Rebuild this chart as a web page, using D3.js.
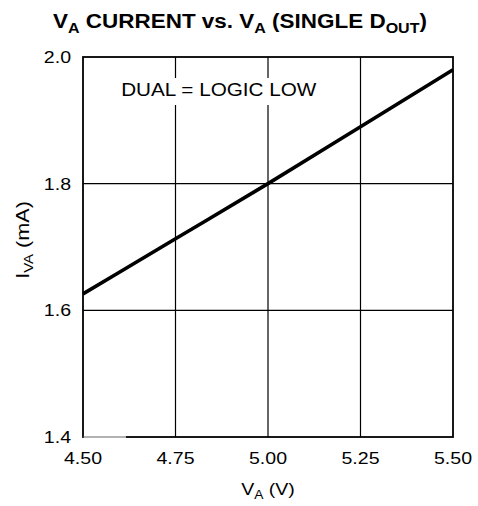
<!DOCTYPE html>
<html><head><meta charset="utf-8">
<script src="https://d3js.org/d3.v7.min.js"></script>
<style>html,body{margin:0;padding:0;background:#fff}svg{display:block}</style>
</head><body>
<script>
const voltage = [4.50, 4.75, 5.00, 5.25, 5.50];
const current = [1.626, 1.713, 1.800, 1.890, 1.980];
const xTicks = [4.50, 4.75, 5.00, 5.25, 5.50];
const yTicks = [1.4, 1.6, 1.8, 2.0];
const noteText = "DUAL = LOGIC LOW";

const W = 478, H = 506;
const m = {left: 83, right: 453, top: 57, bottom: 437};
const SX = 1.15; // horizontal stretch of the reference lettering
const FONT = "Arial, 'Liberation Sans', Helvetica, sans-serif";

const svg = d3.select("body").append("svg").attr("width", W).attr("height", H);
const x = d3.scaleLinear().domain([4.5, 5.5]).range([m.left, m.right]);
const y = d3.scaleLinear().domain([1.4, 2.0]).range([m.bottom, m.top]);

function stretchedText(g, tx, ty, size, anchor, weight, sx) {
  return g.append("text")
    .attr("transform", `translate(${tx},${ty}) scale(${sx || SX},1)`)
    .attr("font-family", FONT).attr("font-size", size)
    .attr("font-weight", weight || "normal")
    .attr("text-anchor", anchor).attr("fill", "#000");
}

// gridlines
const grid = svg.append("g");
grid.selectAll("line.v").data(xTicks.slice(1, -1)).join("line")
  .attr("x1", d => x(d)).attr("x2", d => x(d))
  .attr("y1", m.top).attr("y2", m.bottom)
  .attr("stroke", "#000").attr("stroke-width", 1.2);
grid.selectAll("line.h").data(yTicks.slice(1, -1)).join("line")
  .attr("x1", m.left).attr("x2", m.right)
  .attr("y1", d => y(d)).attr("y2", d => y(d))
  .attr("stroke", "#000").attr("stroke-width", 1.2);

// frame
svg.append("rect").attr("x", m.left).attr("y", m.top)
  .attr("width", m.right - m.left).attr("height", m.bottom - m.top)
  .attr("fill", "none").attr("stroke", "#000").attr("stroke-width", 1.8);
// lighter segment at left of bottom edge
svg.append("line").attr("x1", x(4.5) + 1).attr("x2", x(4.616))
  .attr("y1", y(1.4)).attr("y2", y(1.4))
  .attr("stroke", "#fff").attr("stroke-width", 2.2);
svg.append("line").attr("x1", x(4.5)).attr("x2", x(4.616))
  .attr("y1", y(1.4)).attr("y2", y(1.4))
  .attr("stroke", "#666").attr("stroke-width", 1.2);

// note with white background
const cx = (x(4.75) + x(5.0)) / 2 - 3;
const noteG = svg.append("g");
const noteBg = noteG.append("rect").attr("fill", "#fff");
const note = stretchedText(noteG, cx, 96, 18, "middle").text(noteText);
const bb = note.node().getBBox();
noteBg.attr("x", cx + bb.x * SX - 2).attr("y", 78)
  .attr("width", bb.width * SX + 4).attr("height", 27);

// data line
svg.append("path")
  .datum(voltage.map((v, i) => [v, current[i]]))
  .attr("d", d3.line().x(d => x(d[0])).y(d => y(d[1])).curve(d3.curveMonotoneX))
  .attr("fill", "none").attr("stroke", "#000").attr("stroke-width", 3.6)
  .attr("stroke-linecap", "butt");

// tick labels
const tl = svg.append("g");
xTicks.forEach(t => {
  stretchedText(tl, x(t), 464, 17, "middle").text(d3.format(".2f")(t));
});
yTicks.forEach(t => {
  stretchedText(tl, 71, y(t) + 6, 17, "end").text(d3.format(".1f")(t));
});

// x axis title
const xt = stretchedText(svg, (m.left + m.right) / 2, 495, 17, "middle");
xt.append("tspan").text("V");
xt.append("tspan").attr("font-size", 12).attr("dy", 4).text("A");
xt.append("tspan").attr("dy", -4).text(" (V)");

// y axis title
const yt = svg.append("text")
  .attr("transform", `translate(28.5,240) rotate(-90) scale(1.2,1)`)
  .attr("font-family", FONT).attr("font-size", 18).attr("text-anchor", "middle");
yt.append("tspan").text("I");
yt.append("tspan").attr("font-size", 12.5).attr("dy", 4).text("VA");
yt.append("tspan").attr("dy", -4).text(" (mA)");

// chart title
const tt = stretchedText(svg, 240, 28, 21, "middle", "bold", 1.07);
tt.append("tspan").text("V");
tt.append("tspan").attr("font-size", 15).attr("dy", 5).text("A");
tt.append("tspan").attr("dy", -5).text(" CURRENT vs. V");
tt.append("tspan").attr("font-size", 15).attr("dy", 5).text("A");
tt.append("tspan").attr("dy", -5).text(" (SINGLE D");
tt.append("tspan").attr("font-size", 15).attr("dy", 5).text("OUT");
tt.append("tspan").attr("dy", -5).text(")");
</script>
</body></html>
